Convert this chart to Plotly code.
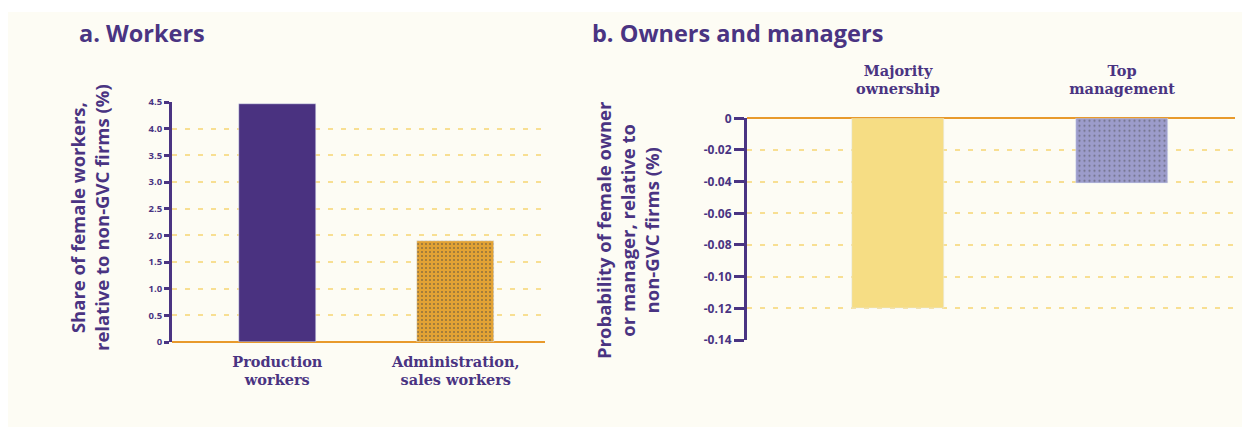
import plotly.graph_objects as go

#-------------------------------------------------------------------------------
# data
workers_cats = ['Production<br>workers', 'Administration,<br>sales workers']
workers_vals = [4.46, 1.89]

owners_cats = ['Majority<br>ownership', 'Top<br>management']
owners_vals = [-0.120, -0.041]

left_ticks = [0, 0.5, 1.0, 1.5, 2.0, 2.5, 3.0, 3.5, 4.0, 4.5]
left_ticktext = ['0', '0.5', '1.0', '1.5', '2.0', '2.5', '3.0', '3.5', '4.0', '4.5']
right_ticks = [0, -0.02, -0.04, -0.06, -0.08, -0.10, -0.12, -0.14]
right_ticktext = ['0', '-0.02', '-0.04', '-0.06', '-0.08', '-0.10', '-0.12', '-0.14']

#-------------------------------------------------------------------------------
W, H = 1250, 427
OFF = 8  # page body margin shifts the figure
PURPLE = '#4A3482'
CREAM = '#FDFCF4'
GRID = '#F8DF92'
ORANGE = '#E89A2C'
SANS = 'Open Sans'
SERIF = 'DejaVu Serif'


def px(x):
    # screen x of the reference -> paper coordinate
    return (x - OFF) / W


def py(y):
    return 1 - (y - OFF) / H


fig = go.Figure()

fig.add_trace(go.Bar(
    x=workers_cats, y=workers_vals, width=0.43,
    marker=dict(color=['#4A3280', '#E2A234'],
                pattern=dict(shape=['', '.'], fillmode='overlay',
                             fgcolor='#F8DC9A', size=4, solidity=0.22)),
    xaxis='x', yaxis='y', showlegend=False,
))
fig.add_trace(go.Bar(
    x=owners_cats, y=owners_vals, width=0.41,
    marker=dict(color=['#F6DD84', '#9C9CCB'],
                pattern=dict(shape=['', '.'], fillmode='overlay',
                             fgcolor='#8CC7AC', size=5, solidity=0.15)),
    xaxis='x2', yaxis='y2', showlegend=False,
))

#-------------------------------------------------------------------------------
tickfont_small = dict(family=SANS, size=9.5, color=PURPLE, weight=700)
tickfont_big = dict(family=SANS, size=12, color=PURPLE, weight=700)
catfont = dict(family=SERIF, size=14.5, color=PURPLE, weight=700)
titlefont = dict(family=SANS, size=23.5, color=PURPLE, weight=700)
axtitlefont = dict(family=SANS, size=18.5, color=PURPLE, weight=700)

fig.update_layout(
    width=W, height=H,
    margin=dict(l=0, r=0, t=0, b=0, autoexpand=False),
    paper_bgcolor=CREAM, plot_bgcolor='rgba(0,0,0,0)',
    bargap=0,
    xaxis=dict(domain=[px(172), px(545)], range=[-0.59, 1.5], anchor='y',
               showline=False, showgrid=False, zeroline=False,
               tickfont=catfont, ticklabelstandoff=9, fixedrange=True),
    yaxis=dict(domain=[py(342), py(102)], range=[0, 4.5], anchor='x',
               tickvals=left_ticks, ticktext=left_ticktext, tickfont=tickfont_small,
               showline=True, linecolor=PURPLE, linewidth=3,
               ticks='outside', ticklen=5, tickwidth=3, tickcolor=PURPLE,
               showgrid=True, gridcolor=GRID, gridwidth=1.8, griddash='5px,8px',
               zeroline=True, zerolinecolor=ORANGE, zerolinewidth=2),
    xaxis2=dict(domain=[px(747), px(1235)], range=[-0.674, 1.504], anchor='y2',
                side='top', showline=False, showgrid=False, zeroline=False,
                tickfont=catfont, ticklabelstandoff=20, fixedrange=True),
    yaxis2=dict(domain=[py(340), py(118.3)], range=[-0.14, 0], anchor='x2',
                tickvals=right_ticks, ticktext=right_ticktext, tickfont=tickfont_big,
                showline=True, linecolor=PURPLE, linewidth=3,
                ticks='outside', ticklen=10, tickwidth=3, tickcolor=PURPLE,
                showgrid=True, gridcolor=GRID, gridwidth=1.8, griddash='5px,8px',
                zeroline=True, zerolinecolor=ORANGE, zerolinewidth=2),
    shapes=[
        dict(type='rect', xref='paper', yref='paper', x0=0, x1=1, y0=py(12), y1=1,
             fillcolor='white', line_width=0, layer='below'),
    ],
    annotations=[
        dict(text='a. Workers', x=px(77), y=py(33), xref='paper', yref='paper',
             xanchor='left', yanchor='middle', showarrow=False, font=titlefont),
        dict(text='b. Owners and managers', x=px(590), y=py(33), xref='paper', yref='paper',
             xanchor='left', yanchor='middle', showarrow=False, font=titlefont),
        dict(text='Share of female workers,<br>relative to non-GVC firms (%)',
             x=px(89), y=py(218), xref='paper', yref='paper', textangle=-90,
             xanchor='center', yanchor='middle', showarrow=False, font=axtitlefont),
        dict(text='Probability of female owner<br>or manager, relative to<br>non-GVC firms (%)',
             x=px(627), y=py(230), xref='paper', yref='paper', textangle=-90,
             xanchor='center', yanchor='middle', showarrow=False, font=axtitlefont),
    ],
)

fig.write_html("out.html")
